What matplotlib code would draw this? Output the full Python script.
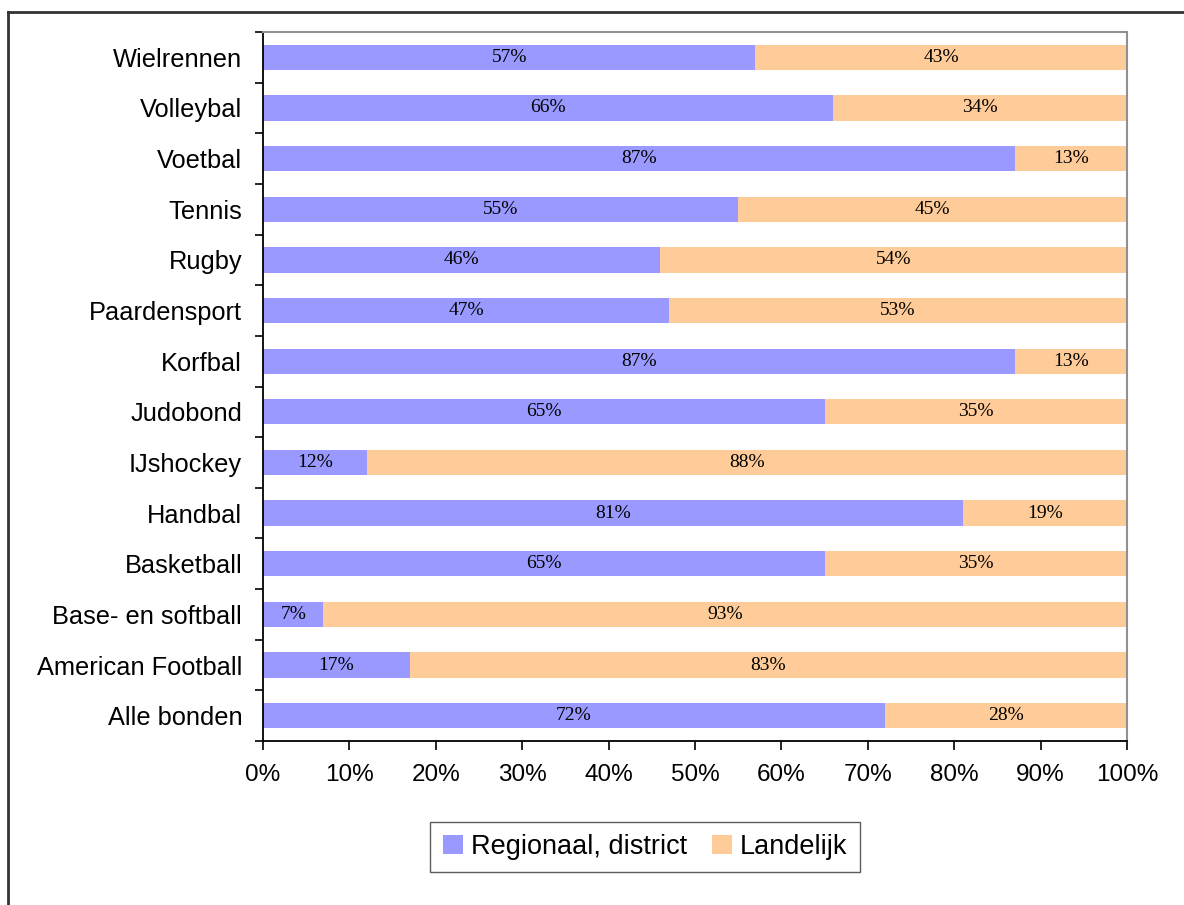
import matplotlib
matplotlib.use("Agg")
import matplotlib.pyplot as plt
from matplotlib.lines import Line2D

# Gegevens (van onder naar boven)
categorieen = ["Alle bonden", "American Football", "Base- en softball", "Basketball",
               "Handbal", "IJshockey", "Judobond", "Korfbal", "Paardensport",
               "Rugby", "Tennis", "Voetbal", "Volleybal", "Wielrennen"]
regionaal = [72, 17, 7, 65, 81, 12, 65, 87, 47, 46, 55, 87, 66, 57]
landelijk = [28, 83, 93, 35, 19, 88, 35, 13, 53, 54, 45, 13, 34, 43]
reeksen = ["Regionaal, district", "Landelijk"]
x_ticks = [0, 10, 20, 30, 40, 50, 60, 70, 80, 90, 100]

blauw = "#9999FF"
oranje = "#FFCC99"

plt.rcParams["font.family"] = ["Liberation Sans", "DejaVu Sans"]

fig = plt.figure(figsize=(11.84, 9.05), dpi=100)
ax = fig.add_axes([263 / 1184, 1 - 741 / 905, (1127 - 263) / 1184, (741 - 32) / 905])

y = list(range(len(categorieen)))
ax.barh(y, regionaal, height=0.5, color=blauw, label=reeksen[0])
ax.barh(y, landelijk, left=regionaal, height=0.5, color=oranje, label=reeksen[1])

# Percentages in de balken
for i in y:
    r = regionaal[i]
    l = landelijk[i]
    ax.text(r / 2, i, f"{r}%", ha="center", va="center", fontsize=14,
            family="Liberation Serif", color="black")
    ax.text(r + l / 2, i, f"{l}%", ha="center", va="center", fontsize=14,
            family="Liberation Serif", color="black")

ax.set_xlim(0, 100)
ax.set_ylim(-0.5, len(categorieen) - 0.5)

ax.set_xticks(x_ticks)
ax.set_xticklabels([f"{t}%" for t in x_ticks], fontsize=17.5)
ax.tick_params(axis="x", direction="out", length=6.5, width=1.2, pad=10)

# tickstreepjes tussen de categorieen, labels in het midden
ax.set_yticks([i - 0.5 for i in range(len(categorieen) + 1)])
ax.set_yticklabels([])
ax.set_yticks(y, minor=True)
ax.set_yticklabels(categorieen, minor=True, fontsize=18.3)
ax.tick_params(axis="y", which="major", direction="out", length=6, width=1.2)
ax.tick_params(axis="y", which="minor", length=0, pad=15)

ax.spines["left"].set_color("black")
ax.spines["bottom"].set_color("black")
ax.spines["left"].set_linewidth(1.3)
ax.spines["bottom"].set_linewidth(1.3)
ax.spines["top"].set_color("#909090")
ax.spines["right"].set_color("#909090")
ax.spines["top"].set_linewidth(1.5)
ax.spines["right"].set_linewidth(1.5)

leg = fig.legend(loc="center", bbox_to_anchor=(645 / 1184, 1 - 847 / 905), ncol=2,
                 fontsize=19.5, frameon=True, fancybox=False, edgecolor="#333333",
                 handlelength=0.75, handleheight=0.75, handletextpad=0.3,
                 columnspacing=0.9, borderpad=0.45, borderaxespad=0)
leg.get_frame().set_linewidth(1.0)

# buitenrand van de grafiek (alleen boven en links zichtbaar)
x0 = 8 / 1184
y0 = 1 - 12 / 905
fig.add_artist(Line2D([x0, 1.05], [y0, y0], transform=fig.transFigure,
                      color="#333333", linewidth=2))
fig.add_artist(Line2D([x0, x0], [-0.05, y0], transform=fig.transFigure,
                      color="#333333", linewidth=2))

fig.savefig("out.png", dpi=100)
